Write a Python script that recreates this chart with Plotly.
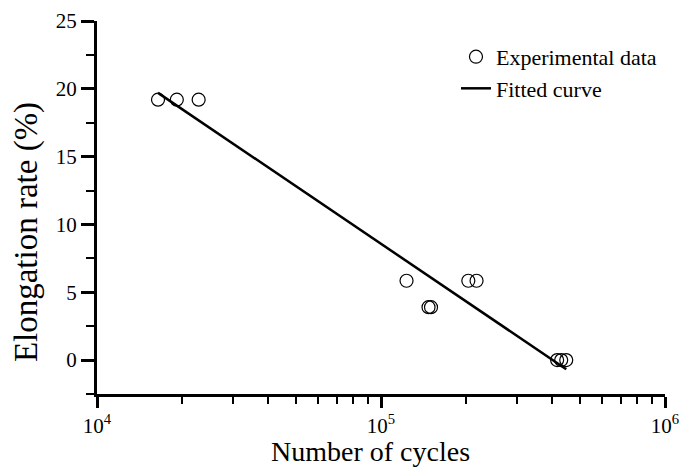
import plotly.graph_objects as go

# Experimental data (cycles, elongation rate %)
exp_cycles = [1.64e4, 1.91e4, 2.28e4, 1.23e5, 1.47e5, 1.50e5, 2.03e5, 2.17e5, 4.17e5, 4.31e5, 4.49e5]
exp_elong = [19.2, 19.2, 19.2, 5.85, 3.9, 3.9, 5.85, 5.85, 0.0, 0.0, 0.0]

# Fitted curve endpoints
fit_cycles = [1.64e4, 4.49e5]
fit_elong = [19.7, -0.67]

x_tickvals = [1e4, 1e5, 1e6]
x_ticktext = ["10<sup>4</sup>", "10<sup>5</sup>", "10<sup>6</sup>"]
x_minor = [m * 10 ** e for e in (4, 5) for m in range(2, 10)]

x_title = "Number of cycles"
y_title = "Elongation rate (%)"

FONT = "Liberation Serif"

fig = go.Figure()
fig.add_trace(go.Scatter(
    x=exp_cycles, y=exp_elong, mode="markers", name="Experimental data",
    legendgroup="a",
    marker=dict(symbol="circle-open", size=13, color="black", line=dict(width=1.2)),
))
fig.add_trace(go.Scatter(
    x=fit_cycles, y=fit_elong, mode="lines", name="Fitted curve",
    legendgroup="b",
    line=dict(color="black", width=2.5),
))

fig.update_layout(
    width=682, height=468,
    margin=dict(l=97, r=17, t=21, b=74),
    paper_bgcolor="white", plot_bgcolor="white",
    font=dict(family=FONT, color="black", size=21),
    showlegend=True,
    legend=dict(x=0.632, y=0.96, xanchor="left", yanchor="top",
                bgcolor="rgba(0,0,0,0)", font=dict(family=FONT, size=22, color="black"),
                tracegroupgap=0),
    annotations=[
        dict(text=x_title, xref="paper", yref="paper", x=0.482, y=-0.155,
             xanchor="center", yanchor="middle", showarrow=False,
             font=dict(family=FONT, size=28, color="black")),
        dict(text=y_title, xref="paper", yref="paper", x=-0.125, y=0.434,
             xanchor="center", yanchor="middle", showarrow=False, textangle=-90,
             font=dict(family=FONT, size=33, color="black")),
    ],
)
fig.update_xaxes(
    type="log", range=[4, 6], automargin=False,
    tickvals=x_tickvals, ticktext=x_ticktext,
    showline=True, linewidth=3, linecolor="black",
    ticks="outside", ticklen=11, tickwidth=3, tickcolor="black",
    minor=dict(tickvals=x_minor, ticks="outside", ticklen=7, tickwidth=2, tickcolor="black", showgrid=False),
    showgrid=False, zeroline=False,
    tickfont=dict(family=FONT, size=21, color="black"),
)
fig.update_yaxes(
    range=[-2.5, 25], tick0=0, dtick=5, automargin=False,
    showline=True, linewidth=3, linecolor="black",
    ticks="outside", ticklen=13, tickwidth=3, tickcolor="black",
    minor=dict(tick0=0, dtick=2.5, ticks="outside", ticklen=8, tickwidth=2, tickcolor="black", showgrid=False),
    showgrid=False, zeroline=False,
    tickfont=dict(family=FONT, size=21, color="black"),
)

fig.write_html("out.html", config={"displayModeBar": False},
               post_script="document.body.style.margin='0';")
